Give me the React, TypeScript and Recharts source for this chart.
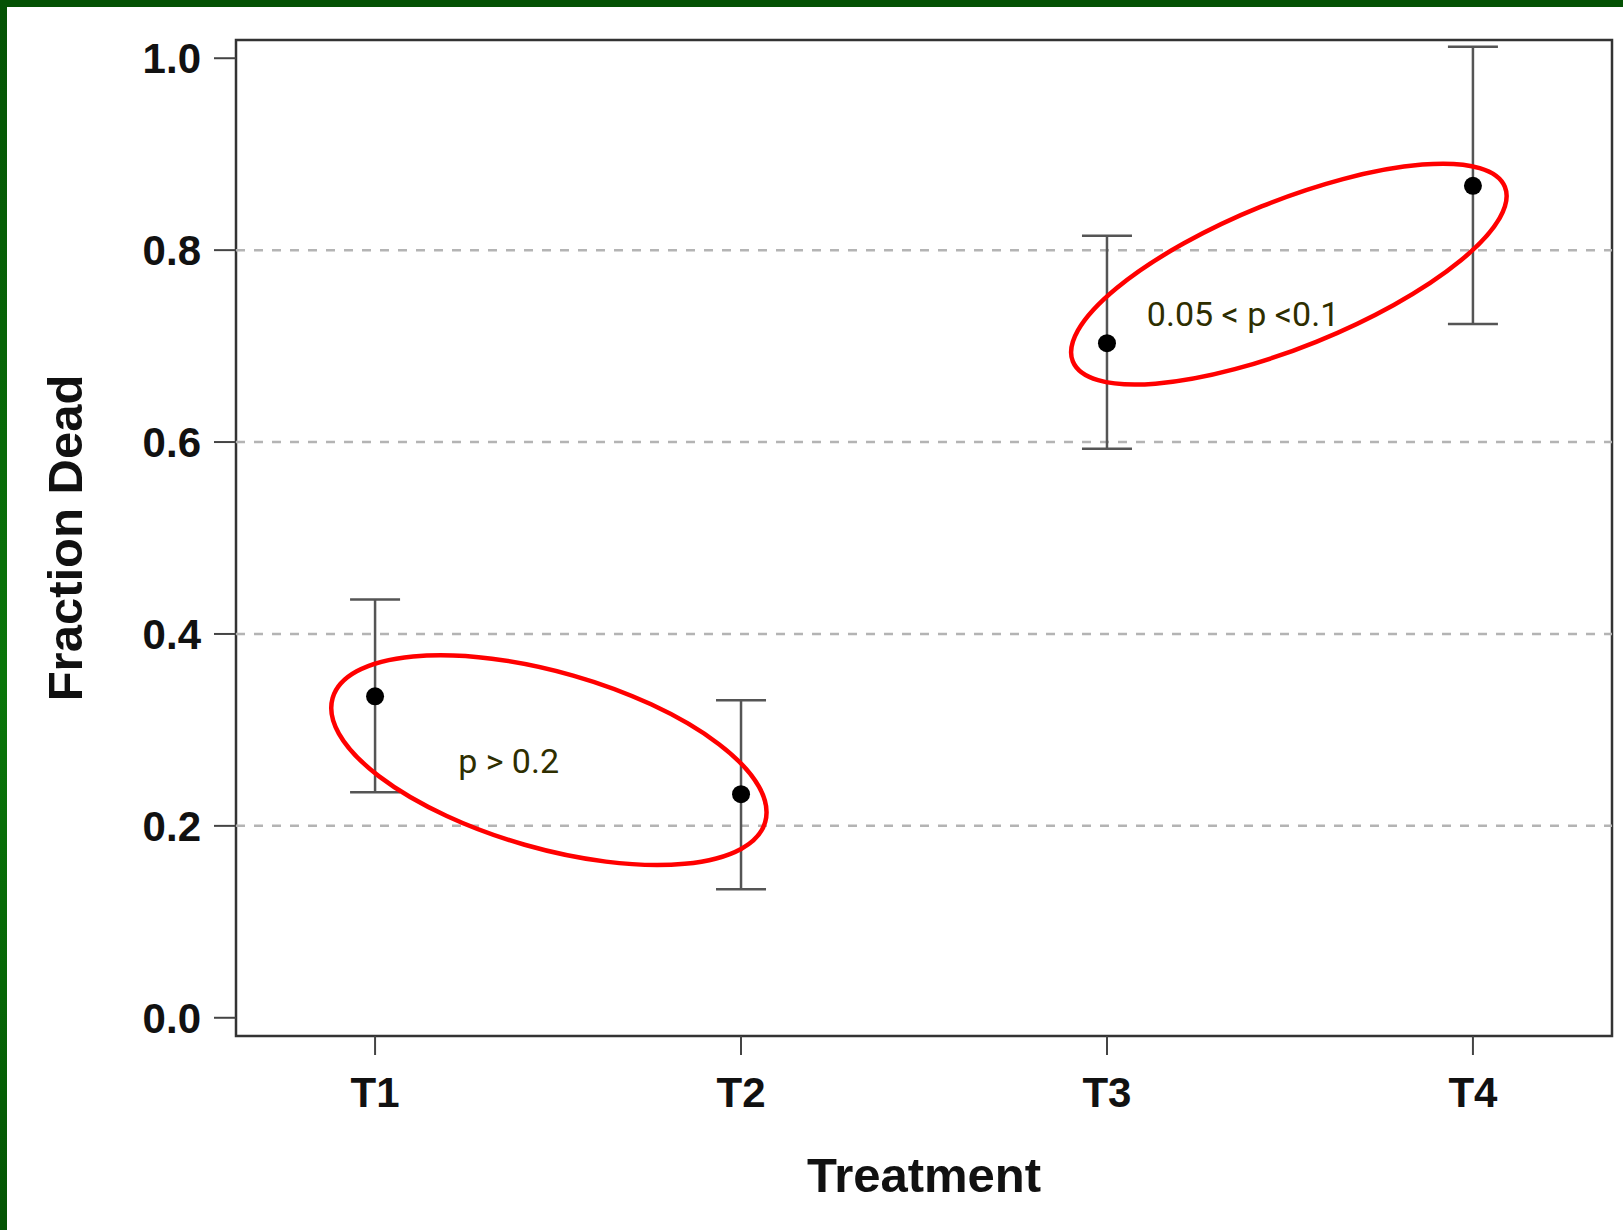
import { ScatterChart, Scatter, XAxis, YAxis, ErrorBar, ReferenceLine, ReferenceArea, ReferenceDot } from "recharts"

// values
const treatments = ["T1", "T2", "T3", "T4"]
const means = [0.335, 0.233, 0.703, 0.867]
const lowerBounds = [0.235, 0.134, 0.593, 0.723]
const upperBounds = [0.436, 0.331, 0.815, 1.012]
const yTicks = [0, 0.2, 0.4, 0.6, 0.8, 1.0]
const gridValues = [0.2, 0.4, 0.6, 0.8]
const xTicks = [1, 2, 3, 4]

// the red circled comparisons
const ringCenters = [
  { x: 1.475, y: 0.2685 },
  { x: 3.497, y: 0.775 },
]
const ringShapes = [
  { rx: 225, ry: 88, angle: 16 },
  { rx: 233, ry: 73, angle: -22 },
]
const noteTexts = ["p > 0.2", "0.05 < p <0.1"]
const noteAnchors = [
  { x: 1.227, y: 0.255 },
  { x: 3.109, y: 0.7208 },
]

const X_DOMAIN = [0.62, 4.38]
const Y_DOMAIN = [-0.019, 1.019]

const data = treatments.map((t, i) => ({
  x: i + 1,
  y: means[i],
  err: [means[i] - lowerBounds[i], upperBounds[i] - means[i]],
}))

const axisFont = "'Liberation Sans', Arial, Helvetica, sans-serif"

const tickStyle = { fontSize: 42, fontWeight: "bold", fill: "#111", fontFamily: axisFont }

function Dot(props: any) {
  return <circle cx={props.cx} cy={props.cy} r={9} fill="#000" />
}

function XTitle(props: any) {
  const vb = props.viewBox
  return (
    <text
      x={vb.x + vb.width / 2}
      y={vb.y + vb.height - 38}
      textAnchor="middle"
      fontSize={49}
      fontWeight="bold"
      fontFamily={axisFont}
      fill="#111"
    >
      Treatment
    </text>
  )
}

function YTitle(props: any) {
  const vb = props.viewBox
  const x = vb.x + 82
  const y = vb.y + vb.height / 2
  return (
    <text
      x={x}
      y={y}
      transform={`rotate(-90 ${x} ${y})`}
      textAnchor="middle"
      fontSize={49}
      fontWeight="bold"
      fontFamily={axisFont}
      fill="#111"
    >
      Fraction Dead
    </text>
  )
}

export default function App() {
  return (
    <div style={{ position: "absolute", left: 0, top: 0, width: 1623, height: 1230, background: "#fff", overflow: "hidden" }}>
      <ScatterChart width={1623} height={1230} margin={{ top: 40, right: 11, bottom: 0, left: 0 }}>
        <XAxis
          type="number"
          dataKey="x"
          domain={X_DOMAIN}
          allowDataOverflow
          ticks={xTicks}
          interval={0}
          tickFormatter={(v: number) => treatments[v - 1]}
          height={194}
          tickSize={19}
          tickMargin={22}
          axisLine={false}
          tickLine={{ stroke: "#444", strokeWidth: 2 }}
          tick={tickStyle}
          label={{ content: XTitle }}
        />
        <YAxis
          type="number"
          dataKey="y"
          domain={Y_DOMAIN}
          allowDataOverflow
          ticks={yTicks}
          interval={0}
          tickFormatter={(v: number) => v.toFixed(1)}
          width={236}
          tickSize={22}
          tickMargin={13}
          axisLine={false}
          tickLine={{ stroke: "#444", strokeWidth: 2 }}
          tick={tickStyle}
          label={{ content: YTitle }}
        />
        {gridValues.map((v) => (
          <ReferenceLine key={v} y={v} stroke="#b4b4b4" strokeWidth={2.5} strokeDasharray="9 9" />
        ))}
        <ReferenceArea
          x1={X_DOMAIN[0]}
          x2={X_DOMAIN[1]}
          y1={Y_DOMAIN[0]}
          y2={Y_DOMAIN[1]}
          ifOverflow="visible"
          fill="none"
          fillOpacity={0}
          stroke="#333"
          strokeWidth={2.5}
        />
        <Scatter data={data} dataKey="y" isAnimationActive={false} shape={Dot}>
          <ErrorBar dataKey="err" direction="y" width={25} stroke="#555" strokeWidth={2.5} isAnimationActive={false} />
        </Scatter>
        {ringCenters.map((c, i) => (
          <ReferenceDot
            key={"ring" + i}
            x={c.x}
            y={c.y}
            r={1}
            ifOverflow="visible"
            shape={(p: any) => (
              <ellipse
                cx={p.cx}
                cy={p.cy}
                rx={ringShapes[i].rx}
                ry={ringShapes[i].ry}
                transform={`rotate(${ringShapes[i].angle} ${p.cx} ${p.cy})`}
                fill="none"
                stroke="#ff0000"
                strokeWidth={4.5}
              />
            )}
          />
        ))}
        {noteAnchors.map((a, i) => (
          <ReferenceDot
            key={"note" + i}
            x={a.x}
            y={a.y}
            r={1}
            ifOverflow="visible"
            shape={(p: any) => (
              <text x={p.cx} y={p.cy} fontSize={34} fontFamily="Roboto, 'Noto Sans', sans-serif" fill="#2e2e00">
                {noteTexts[i]}
              </text>
            )}
          />
        ))}
      </ScatterChart>
      <div style={{ position: "absolute", left: 0, top: 0, width: 1623, height: 7, background: "#045204" }} />
      <div
        style={{
          position: "absolute",
          left: 0,
          top: 0,
          width: 7,
          height: 1230,
          background: "linear-gradient(#045204, #0a760a 55%, #066606 80%, #045404)",
        }}
      />
    </div>
  )
}
